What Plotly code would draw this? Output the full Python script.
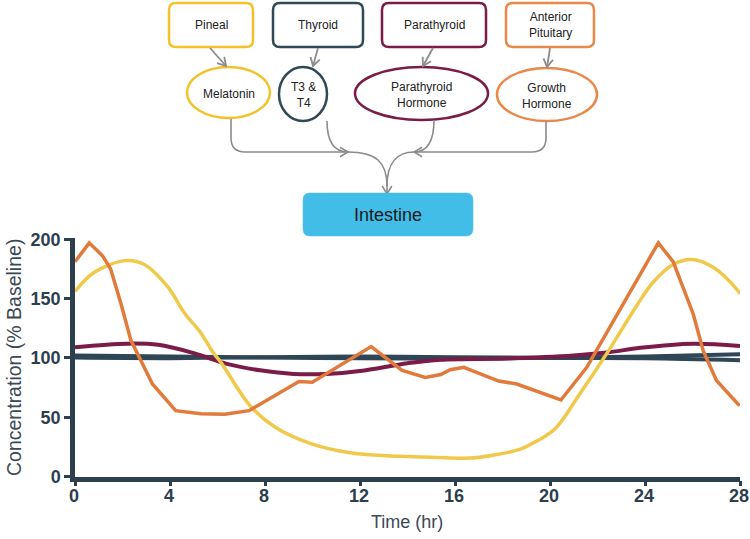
import plotly.graph_objects as go
import math

# ---------------- data ----------------
mel_t = [0, 0.8, 2.1, 2.9, 3.9, 4.6, 5.3, 5.8, 6.15, 7.4, 8.4, 9.9, 11.6, 13.7, 15.4, 16.6,
         17.6, 18.75, 19.45, 20.2, 21.3, 22.4, 23.65, 24.35, 25.2, 26.0, 26.9, 27.9, 28]
mel_v = [156, 172, 182, 179, 160, 138, 121, 105, 96, 59, 42, 28, 20, 17, 16, 15.5,
         18, 23, 30, 40, 71, 104, 144, 164, 179, 183, 176, 157, 154]

gh_t = [0, 0.6, 1.16, 1.5, 1.93, 2.35, 3.26, 4.24, 5.3, 6.3, 7.33, 8.38, 9.43, 9.99, 11.18,
        12.47, 13.77, 14.75, 15.4, 15.8, 16.37, 17.84, 18.6, 19.6, 20.46, 21.55, 23.09,
        24.56, 25.19, 26.03, 26.45, 27.01, 27.92, 28]
gh_v = [181, 197, 186, 175, 146, 115, 78, 55.5, 53, 52.5, 55.5, 68, 80, 79.5, 93.5,
        109.5, 89.5, 83.5, 86, 90, 92, 80.5, 78, 71, 64.5, 92, 146,
        197, 181, 137, 106, 81, 61, 60]

pth_t = [0, 2.2, 3.5, 5.0, 6.4, 7.8, 9.2, 10.6, 12.0, 14.0, 15.4, 18.2, 21.0, 22.4, 23.8, 26.0, 28]
pth_v = [109, 112, 111, 104, 95, 89.5, 86.5, 86.5, 89, 95.5, 98.5, 99.5, 102, 104.5, 108.5, 112, 110]

thy_t = [0, 4, 8, 12, 16, 20, 24, 28]
t3_v = [102, 101.2, 100.3, 99.6, 99.5, 100.1, 101.2, 103]
t4_v = [100.3, 99.8, 100.6, 101.2, 100.6, 100, 99.6, 98]

x_ticks = [0, 4, 8, 12, 16, 20, 24, 28]
y_ticks = [0, 50, 100, 150, 200]

organs = ["Pineal", "Thyroid", "Parathyroid", "Anterior<br>Pituitary"]
hormones = ["Melatonin", "T3 &<br>T4", "Parathyroid<br>Hormone", "Growth<br>Hormone"]
target = "Intestine"

# ---------------- styles ----------------
YEL, ORA, MAR, SLA = "#F0C94A", "#E27A3B", "#7B1B47", "#2F4656"
YEL_B, ORA_B, MAR_B, SLA_B = "#F3C22B", "#E8894A", "#7B1B47", "#2F4A57"
AXC = "#2D3E4E"
GREY = "#8C8C8C"
W, H = 750, 539

fig = go.Figure()
fig.add_trace(go.Scatter(x=thy_t, y=t3_v, mode="lines", line=dict(color=SLA, width=4, shape="spline"),
                         showlegend=False, hoverinfo="skip"))
fig.add_trace(go.Scatter(x=thy_t, y=t4_v, mode="lines", line=dict(color=SLA, width=4, shape="spline"),
                         showlegend=False, hoverinfo="skip"))
fig.add_trace(go.Scatter(x=pth_t, y=pth_v, mode="lines", line=dict(color=MAR, width=4, shape="spline"),
                         showlegend=False, hoverinfo="skip"))
fig.add_trace(go.Scatter(x=mel_t, y=mel_v, mode="lines", line=dict(color=YEL, width=3.5, shape="spline"),
                         showlegend=False, hoverinfo="skip"))
fig.add_trace(go.Scatter(x=gh_t, y=gh_v, mode="lines", line=dict(color=ORA, width=3.5),
                         showlegend=False, hoverinfo="skip"))
# overlay pixel-space subplot for the diagram
fig.add_trace(go.Scatter(x=[None], y=[None], xaxis="x2", yaxis="y2", showlegend=False, hoverinfo="skip"))
# label-only x axis sharing the main x scale
fig.add_trace(go.Scatter(x=[None], y=[None], xaxis="x3", yaxis="y", showlegend=False, hoverinfo="skip"))

tickfont = dict(family="Liberation Sans, Arial, sans-serif", size=18, color=AXC, weight="bold")

fig.update_layout(
    width=W, height=H,
    margin=dict(l=0, r=0, t=0, b=0),
    paper_bgcolor="white", plot_bgcolor="rgba(0,0,0,0)",
    xaxis=dict(domain=[75 / W, 740 / W], range=[0, 28], tickvals=x_ticks, showticklabels=False,
               showline=True, linewidth=4.5, linecolor=AXC, ticks="outside", ticklen=5,
               tickwidth=3, tickcolor=AXC, showgrid=False, zeroline=False,
               automargin=False, fixedrange=True),
    xaxis3=dict(overlaying="x", anchor="free", position=(H - 483) / H, range=[0, 28],
                tickvals=x_ticks, showline=False, ticks="", showgrid=False, zeroline=False,
                tickfont=tickfont, ticklabeloverflow="allow", ticklabelshift=-1,
                automargin=False, fixedrange=True),
    yaxis=dict(domain=[(H - 476.5) / H, (H - 237.5) / H], range=[0, 201.5], tickvals=y_ticks,
               showline=True, linewidth=4.5, linecolor=AXC, ticks="outside", ticklen=6,
               tickwidth=3, tickcolor=AXC, showgrid=False, zeroline=False, tickfont=tickfont,
               automargin=False, fixedrange=True),
    xaxis2=dict(domain=[0, 1], range=[0, W], visible=False, anchor="y2", fixedrange=True),
    yaxis2=dict(domain=[0, 1], range=[H, 0], visible=False, anchor="x2", fixedrange=True),
)

shapes = []
annos = []

def rrect(x0, y0, x1, y1, r):
    return (f"M {x0 + r},{y0} L {x1 - r},{y0} Q {x1},{y0} {x1},{y0 + r} L {x1},{y1 - r} "
            f"Q {x1},{y1} {x1 - r},{y1} L {x0 + r},{y1} Q {x0},{y1} {x0},{y1 - r} "
            f"L {x0},{y0 + r} Q {x0},{y0} {x0 + r},{y0} Z")

def head(x1, y1, fx, fy, size=8, spread=0.55):
    dx, dy = x1 - fx, y1 - fy
    L = math.hypot(dx, dy)
    ux, uy = dx / L, dy / L
    bx, by = x1 - ux * size, y1 - uy * size
    px, py = -uy, ux
    return (f"M {bx + px * size * spread},{by + py * size * spread} L {x1},{y1} "
            f"L {bx - px * size * spread},{by - py * size * spread}")

def add_path(p, color=GREY, width=1.6, fill=None):
    d = dict(type="path", path=p, xref="x2", yref="y2", line=dict(color=color, width=width))
    if fill:
        d["fillcolor"] = fill
    shapes.append(d)

def add_text(x, y, txt, size=12, color="#222222", angle=0, family="Liberation Sans, Arial, sans-serif"):
    annos.append(dict(x=x, y=y, xref="x2", yref="y2", text=txt, showarrow=False, textangle=angle,
                      font=dict(family=family, size=size, color=color), xanchor="center", yanchor="middle"))

# organ boxes
boxes = [(169, 3, 253, 47, YEL_B), (273, 3, 363, 47, SLA_B), (382, 3, 486, 47, MAR_B), (506, 3, 594, 47, ORA_B)]
for (x0, y0, x1, y1, c), name in zip(boxes, organs):
    add_path(rrect(x0, y0, x1, y1, 7), color=c, width=2.5, fill="white")
    add_text((x0 + x1) / 2, (y0 + y1) / 2, name, size=12)

# hormone ellipses
ells = [(187, 67, 270, 118, YEL_B), (279, 67, 327, 121, SLA_B), (355, 67, 488, 120, MAR_B), (497, 68, 597, 121, ORA_B)]
for (x0, y0, x1, y1, c), name in zip(ells, hormones):
    shapes.append(dict(type="circle", xref="x2", yref="y2", x0=x0, y0=y0, x1=x1, y1=y1,
                       line=dict(color=c, width=2.5), fillcolor="white"))
    add_text((x0 + x1) / 2, (y0 + y1) / 2 + 1, name, size=12)

# box -> ellipse arrows
for (fx, fy, tx, ty) in [(210, 48, 226, 66), (318, 48, 313, 66), (433, 48, 423, 66), (550, 48, 547, 67)]:
    add_path(f"M {fx},{fy} L {tx},{ty}", width=1.8)
    add_path(head(tx, ty, fx, fy, size=8, spread=0.6), width=1.8)

# ellipse -> intestine connectors
add_path("M 231,119 L 231,138 Q 231,152 245,152 L 348,152")
add_path("M 327,121 C 327,141 333,152 348,152")
add_path(head(348, 152, 338, 152, size=8, spread=0.6))
add_path("M 434,120 C 434,141 428,152 414,152")
add_path("M 546,121 L 546,138 Q 546,152 532,152 L 414,152")
add_path(head(414, 152, 424, 152, size=8, spread=0.6))
add_path("M 348,152 C 376,152 387,162 387,186 L 387,193")
add_path("M 414,152 C 398,152 387,162 387,186")
add_path(head(387, 194, 387, 184, size=8, spread=0.6))

# intestine box
add_path(rrect(303, 193, 473, 236, 7), color="#42BDE8", width=0.5, fill="#42BDE8")
add_text(388, 215, target, size=18, color="#1a1a1a")

# axis titles
add_text(14, 358, "Concentration (% Baseline)", size=19.5, color="#3B4955", angle=-90)
add_text(407, 522, "Time (hr)", size=18, color="#3B4955")

fig.update_layout(shapes=shapes, annotations=annos)
fig.write_html("out.html", config={"displayModeBar": False},
               post_script="document.body.style.margin='0';document.body.style.overflow='hidden';")
